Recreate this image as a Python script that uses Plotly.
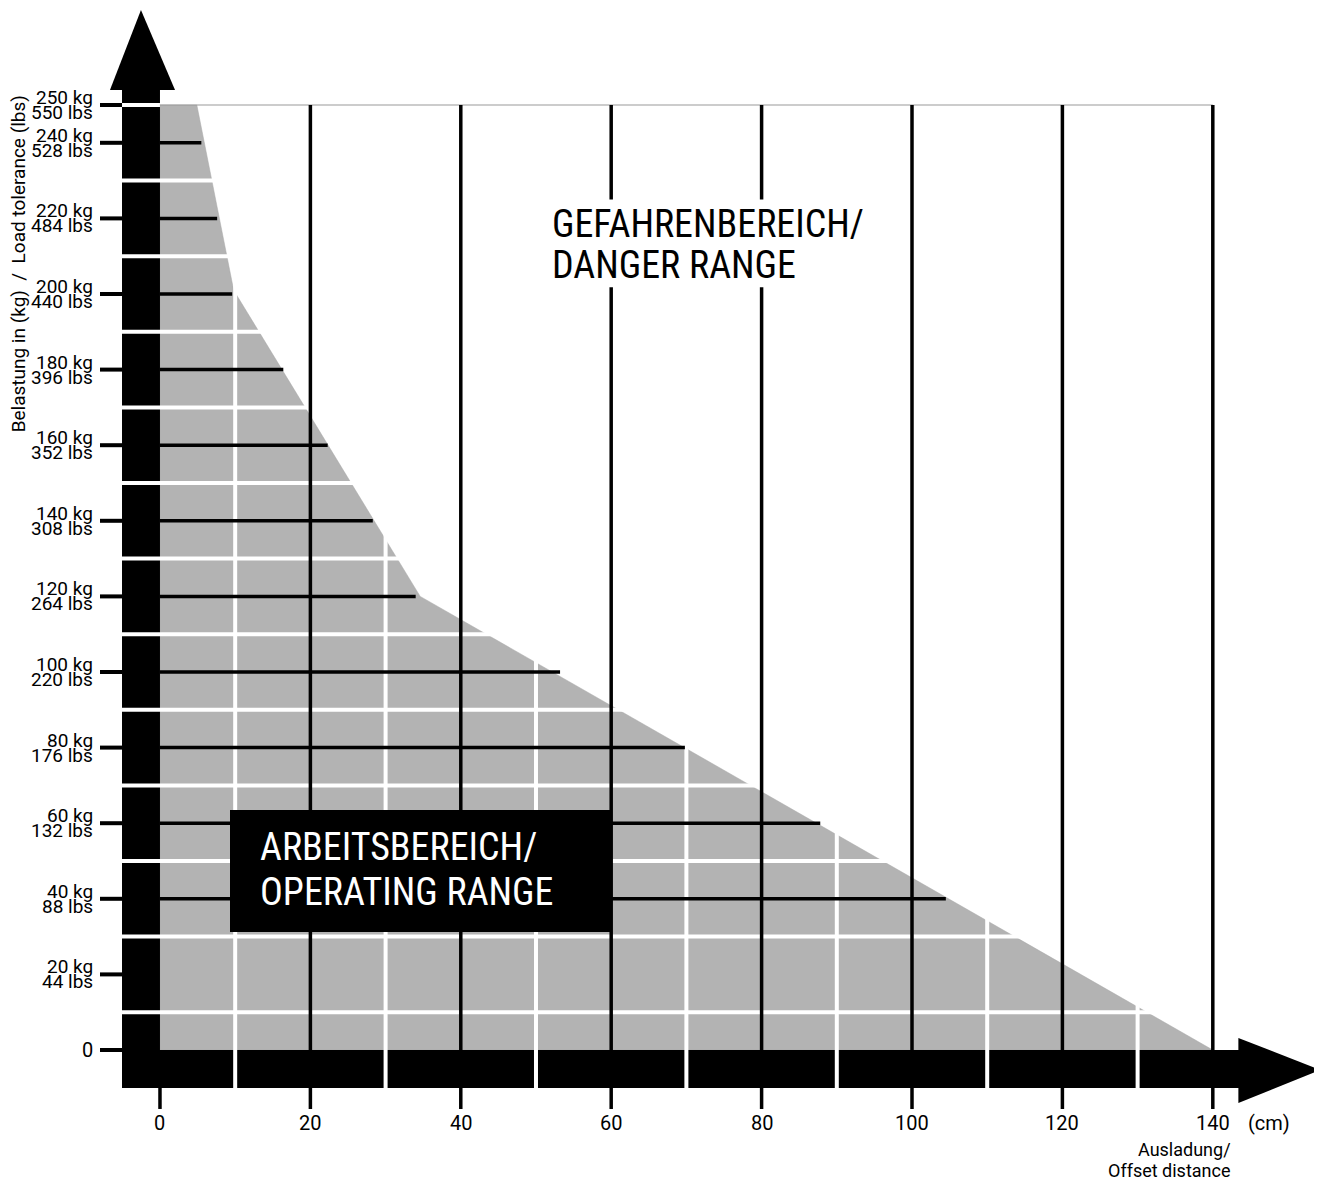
import plotly.graph_objects as go

# ---------------- data ----------------
load_ticks = [0, 20, 40, 60, 80, 100, 120, 140, 160, 180, 200, 220, 240, 250]
lbs_ticks = [0, 44, 88, 132, 176, 220, 264, 308, 352, 396, 440, 484, 528, 550]
offset_ticks = [0, 20, 40, 60, 80, 100, 120, 140]
minor_offsets = [10, 30, 50, 70, 90, 110, 130]
minor_loads = [10, 30, 50, 70, 90, 110, 130, 150, 170, 190, 210, 230]

# limit curve of the operating range (offset cm, load kg)
limit_offset = [4.9, 9.8, 34.6, 140.0]
limit_load = [250, 201, 120, 0]

# max offset per rated load (black lines)
rated_loads = [240, 220, 200, 180, 160, 140, 120, 100, 80, 60, 40]
rated_offsets = [5.5, 7.6, 9.6, 16.4, 22.3, 28.3, 34.0, 53.2, 69.8, 87.8, 104.5]

# ---------------- geometry ----------------
# the page has an 8px body margin, so the figure is 8px smaller and ranges are set accordingly
W, H = 1314, 1172
X0, X1 = -20.21, 154.52
Y0, Y1 = -34.39, 275.66

BAR_L = -5.05      # left edge of y-axis bar
BAR_B = -10.05     # bottom edge of x-axis bar
TICK_B = -15.6
FONT = "Roboto, Liberation Sans, sans-serif"
BIG = "Liberation Sans Narrow, Roboto Condensed, Arial Narrow, Roboto, sans-serif"

fig = go.Figure()

# operating range (gray)
px = [0, 0] + limit_offset + [0]
py = [0, limit_load[0]] + limit_load + [0]
fig.add_trace(go.Scatter(x=px, y=py, fill="toself", fillcolor="#b3b3b3",
                         line=dict(color="#a8a8a8", width=0.5), mode="lines",
                         hoverinfo="skip"))

# axis bars (black)
fig.add_trace(go.Scatter(x=[BAR_L, 0, 0, BAR_L, BAR_L], y=[BAR_B, BAR_B, 254.5, 254.5, BAR_B],
                         fill="toself", fillcolor="black", line=dict(width=0, color="black"),
                         mode="lines", hoverinfo="skip"))
fig.add_trace(go.Scatter(x=[BAR_L, 143.6, 143.6, BAR_L, BAR_L], y=[BAR_B, BAR_B, 0, 0, BAR_B],
                         fill="toself", fillcolor="black", line=dict(width=0, color="black"),
                         mode="lines", hoverinfo="skip"))
# arrow heads
fig.add_trace(go.Scatter(x=[-6.65, 2.0, -2.53, -6.65], y=[254.0, 254.0, 275.1, 254.0],
                         fill="toself", fillcolor="black", line=dict(width=0, color="black"),
                         mode="lines", hoverinfo="skip"))
fig.add_trace(go.Scatter(x=[143.4, 143.4, 154.3, 143.4], y=[3.2, -14.0, -5.3, 3.2],
                         fill="toself", fillcolor="black", line=dict(width=0, color="black"),
                         mode="lines", hoverinfo="skip"))

# white grid lines
wx, wy = [], []
for v in minor_loads:
    wx += [BAR_L, 140, None]
    wy += [v, v, None]
wx += [BAR_L, 0, None]
wy += [load_ticks[-1], load_ticks[-1], None]
for v in minor_offsets:
    wx += [v, v, None]
    wy += [BAR_B, 250, None]
fig.add_trace(go.Scatter(x=wx, y=wy, mode="lines", line=dict(color="white", width=4),
                         hoverinfo="skip"))

# top limit line at 250
fig.add_trace(go.Scatter(x=[0, offset_ticks[-1]], y=[load_ticks[-1], load_ticks[-1]],
                         mode="lines", line=dict(color="#9a9a9a", width=1.2), hoverinfo="skip"))

# black vertical lines and ticks
bx, by = [], []
for v in offset_ticks:
    if v == 0:
        bx += [v, v, None]
        by += [TICK_B, BAR_B, None]
    else:
        bx += [v, v, None]
        by += [TICK_B, 250, None]
fig.add_trace(go.Scatter(x=bx, y=by, mode="lines", line=dict(color="black", width=3.5),
                         hoverinfo="skip"))

# black load lines
lx, ly = [], []
for ld, off in zip(rated_loads, rated_offsets):
    lx += [0, off, None]
    ly += [ld, ld, None]
fig.add_trace(go.Scatter(x=lx, y=ly, mode="lines", line=dict(color="black", width=3.5),
                         hoverinfo="skip"))

# y ticks left of the bar
tx, ty = [], []
for v in load_ticks:
    tx += [-7.98, BAR_L, None]
    ty += [v, v, None]
fig.add_trace(go.Scatter(x=tx, y=ty, mode="lines", line=dict(color="black", width=4),
                         hoverinfo="skip"))

# white backing behind the danger-range label
fig.add_shape(type="rect", x0=51.0, x1=97.5, y0=201.8, y1=225.0, layer="above",
              fillcolor="white", line=dict(width=0))
# operating range box
fig.add_shape(type="rect", x0=9.31, x1=60.1, y0=31.22, y1=63.49, layer="above",
              fillcolor="black", line=dict(width=0))

ann = []
# y tick labels
for kg, lb in zip(load_ticks, lbs_ticks):
    if kg == 0:
        ann.append(dict(x=-8.6, y=kg, text="0", xanchor="right", yanchor="middle",
                        font=dict(size=20, family=FONT, color="black")))
        continue
    ann.append(dict(x=-8.6, y=kg + 1.98, text=f"{kg} kg", xanchor="right", yanchor="middle",
                    font=dict(size=19, family=FONT, color="black")))
    ann.append(dict(x=-8.6, y=kg - 1.98, text=f"{lb} lbs", xanchor="right", yanchor="middle",
                    font=dict(size=19, family=FONT, color="black")))
# x tick labels
for v in offset_ticks:
    ann.append(dict(x=v, y=-19.3, text=str(v), xanchor="center", yanchor="middle",
                    font=dict(size=20, family=FONT, color="black")))
ann.append(dict(x=147.5, y=-19.3, text="(cm)", xanchor="center", yanchor="middle",
                font=dict(size=20, family=FONT, color="black")))
ann.append(dict(x=142.7, y=-26.2, text="Ausladung/", xanchor="right", yanchor="middle",
                font=dict(size=18, family=FONT, color="black")))
ann.append(dict(x=142.7, y=-31.8, text="Offset distance", xanchor="right", yanchor="middle",
                font=dict(size=18, family=FONT, color="black")))
# y title
ann.append(dict(x=-18.85, y=207.9, text="Belastung in (kg)  /  Load tolerance (lbs)",
                textangle=-90, xanchor="center", yanchor="middle",
                font=dict(size=19, family=FONT, color="black")))
# range labels
ann.append(dict(x=51.9, y=218.6, text="GEFAHRENBEREICH/", xanchor="left", yanchor="middle",
                font=dict(size=38, family=BIG, color="black")))
ann.append(dict(x=51.9, y=207.8, text="DANGER RANGE", xanchor="left", yanchor="middle",
                font=dict(size=38, family=BIG, color="black")))
ann.append(dict(x=13.0, y=53.8, text="ARBEITSBEREICH/", xanchor="left", yanchor="middle",
                font=dict(size=38, family=BIG, color="white")))
ann.append(dict(x=13.0, y=41.9, text="OPERATING RANGE", xanchor="left", yanchor="middle",
                font=dict(size=38, family=BIG, color="white")))
for a in ann:
    a.update(showarrow=False, xref="x", yref="y")

fig.update_layout(
    width=W, height=H, autosize=False,
    margin=dict(l=0, r=0, t=0, b=0),
    paper_bgcolor="white", plot_bgcolor="white",
    showlegend=False,
    annotations=ann,
    xaxis=dict(range=[X0, X1], visible=False, fixedrange=True),
    yaxis=dict(range=[Y0, Y1], visible=False, fixedrange=True),
)

fig.write_html("out.html")
